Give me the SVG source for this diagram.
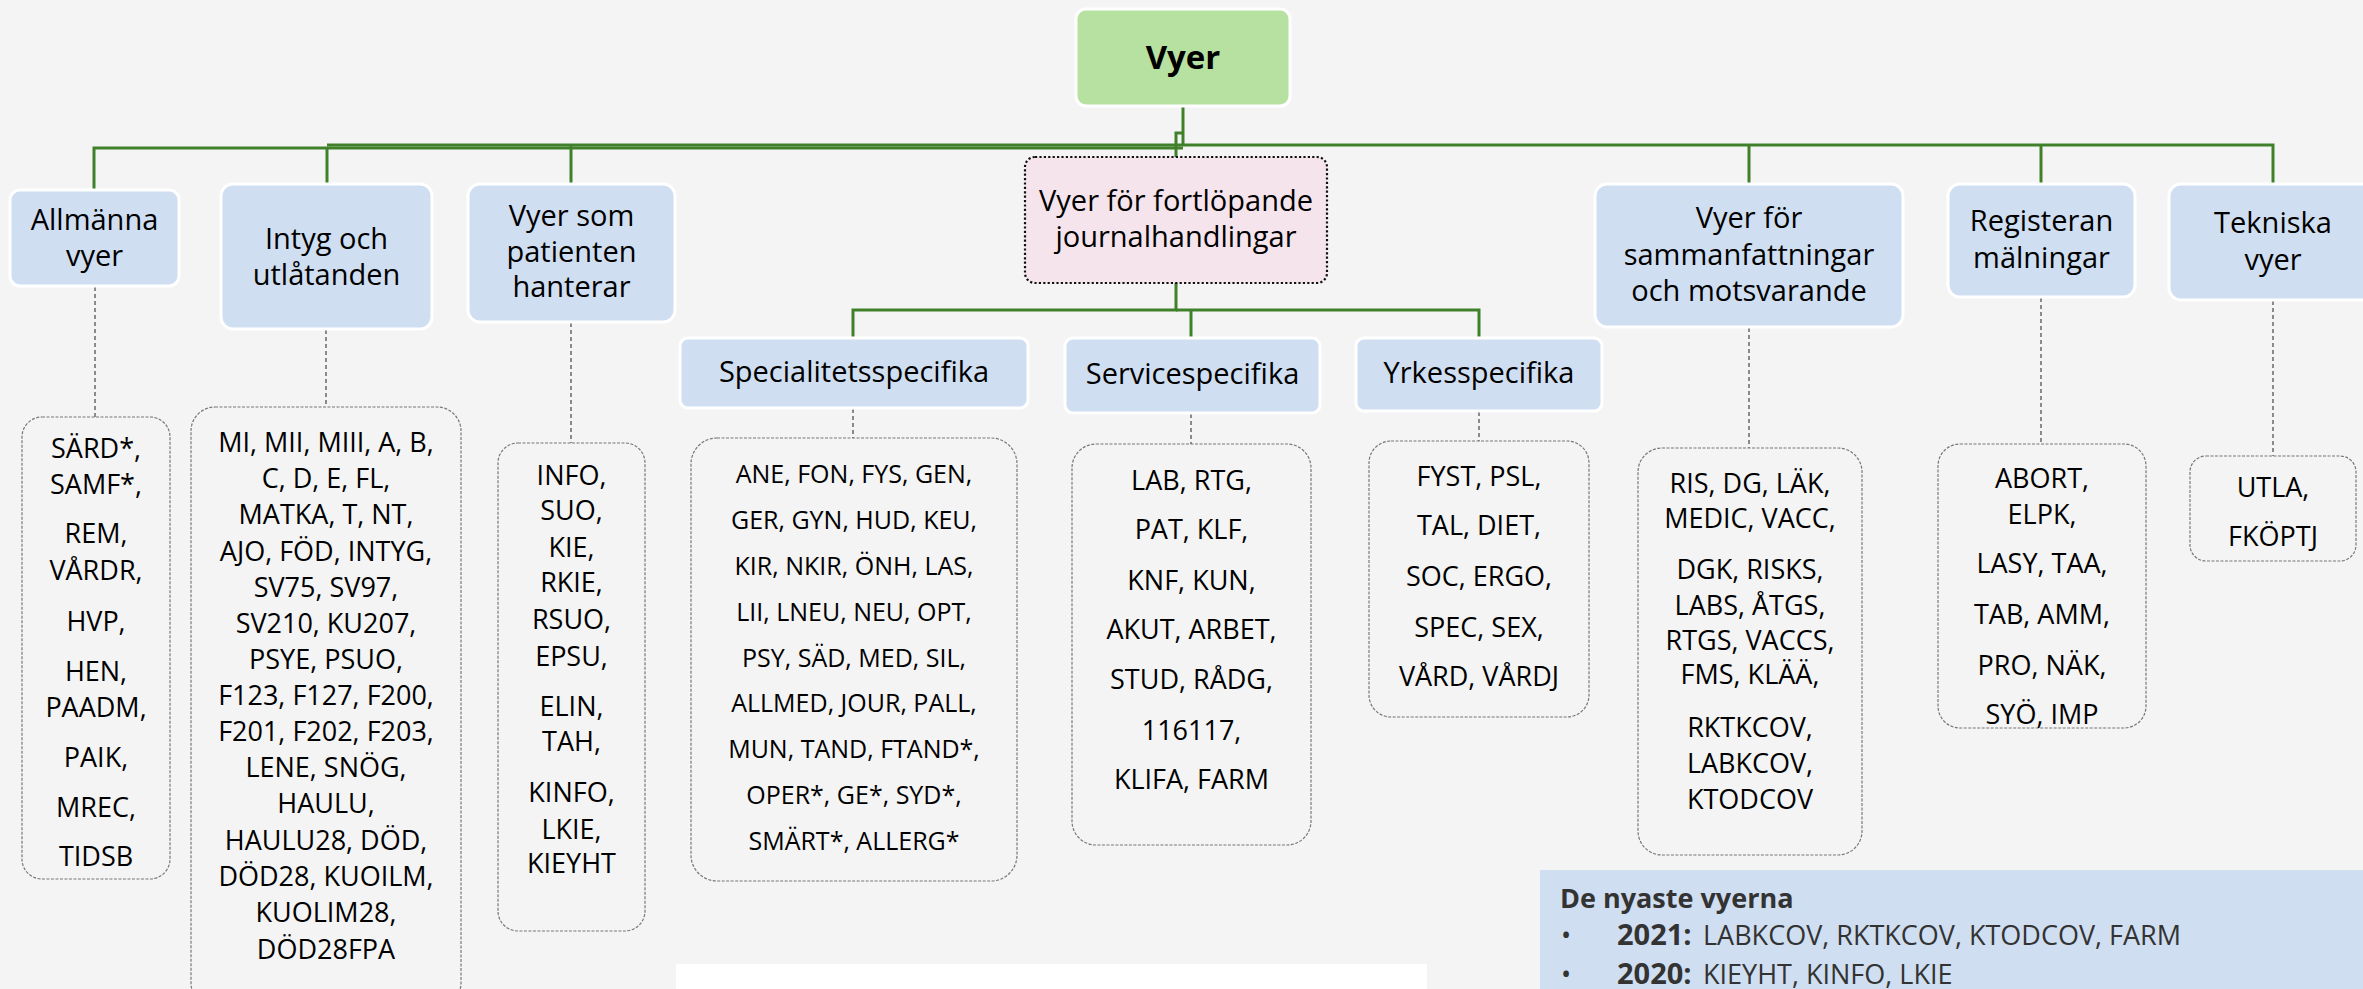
<svg xmlns="http://www.w3.org/2000/svg" width="2363" height="989" viewBox="0 0 2363 989">
<style>
text{font-family:"Open Sans","Noto Sans","Liberation Sans",sans-serif;fill:#000;text-anchor:middle}
.hdr{fill:#cfdef1;stroke:#fff;stroke-width:3}
.root{fill:#b7e1a1;stroke:#fff;stroke-width:3}
.pink{fill:#f5e4ec;stroke:#111;stroke-width:2.2;stroke-dasharray:2.2 2.2}
.leaf{fill:#f4f4f4;stroke:#777;stroke-width:1.2;stroke-dasharray:3 1.5}
.ht{font-size:29px}
.lt{font-size:27px}
.conn path{fill:none;stroke:#41802a;stroke-width:3}
.dash path{fill:none;stroke:#444;stroke-width:1.2;stroke-dasharray:4 3}
.lg{fill:#333;text-anchor:start;font-size:27px}
</style>
<rect x="0" y="0" width="2363" height="989" fill="#f4f4f4"/>

<g id="connectors">
  <g class="conn">
    <path d="M1183,106 V146"/>
    <path d="M1183,148 H94 V190"/>
    <path d="M327,148 V184"/>
    <path d="M327,145 H2273 V184"/>
    <path d="M571,145 V184"/>
    <path d="M1749,145 V184"/>
    <path d="M2041,145 V184"/>
    <path d="M1183,133 H1176 V157" stroke-width="2.5"/>
    <path d="M1176,283 V310 H853 V338" stroke-width="2.5"/>
    <path d="M1176,310 H1479 V338" stroke-width="2.5"/>
    <path d="M1191,310 V338" stroke-width="2.5"/>
  </g>
  <g class="dash">
    <path d="M95,287 V417"/>
    <path d="M326,330 V407"/>
    <path d="M571,323 V443"/>
    <path d="M853,409 V438"/>
    <path d="M1191,414 V444"/>
    <path d="M1479,412 V441"/>
    <path d="M1749,328 V448"/>
    <path d="M2041,298 V444"/>
    <path d="M2273,301 V456"/>
  </g>
</g>

<g id="root">
  <rect class="root" x="1076" y="9" width="214" height="97" rx="10"/>
  <text x="1183" y="69" font-size="33" font-weight="bold">Vyer</text>
</g>

<g id="allmanna">
  <rect class="hdr" x="10" y="190" width="169" height="96" rx="10"/>
  <text class="ht" x="94.5" y="230">Allmänna</text>
  <text class="ht" x="94.5" y="266">vyer</text>
</g>
<g id="intyg">
  <rect class="hdr" x="221" y="184" width="211" height="145" rx="12"/>
  <text class="ht" x="326.5" y="249">Intyg och</text>
  <text class="ht" x="326.5" y="285">utlåtanden</text>
</g>
<g id="patienten">
  <rect class="hdr" x="468" y="184" width="207" height="138" rx="12"/>
  <text class="ht" x="571.5" y="226">Vyer som</text>
  <text class="ht" x="571.5" y="262">patienten</text>
  <text class="ht" x="571.5" y="297">hanterar</text>
</g>
<g id="fortlopande">
  <rect class="pink" x="1025" y="157" width="302" height="126" rx="10"/>
  <text class="ht" x="1176" y="211">Vyer för fortlöpande</text>
  <text class="ht" x="1176" y="247">journalhandlingar</text>
</g>
<g id="specialitet">
  <rect class="hdr" x="680" y="338" width="348" height="70" rx="8"/>
  <text class="ht" x="854" y="382">Specialitetsspecifika</text>
</g>
<g id="service">
  <rect class="hdr" x="1065" y="338" width="255" height="75" rx="8"/>
  <text class="ht" x="1192.5" y="384">Servicespecifika</text>
</g>
<g id="yrkes">
  <rect class="hdr" x="1356" y="338" width="246" height="73" rx="8"/>
  <text class="ht" x="1479" y="383">Yrkesspecifika</text>
</g>
<g id="sammanfattningar">
  <rect class="hdr" x="1595" y="184" width="308" height="143" rx="12"/>
  <text class="ht" x="1749" y="228">Vyer för</text>
  <text class="ht" x="1749" y="265">sammanfattningar</text>
  <text class="ht" x="1749" y="301">och motsvarande</text>
</g>
<g id="registeran">
  <rect class="hdr" x="1948" y="184" width="187" height="113" rx="12"/>
  <text class="ht" x="2041.5" y="231">Registeran</text>
  <text class="ht" x="2041.5" y="268">mälningar</text>
</g>
<g id="tekniska">
  <rect class="hdr" x="2169" y="184" width="210" height="116" rx="12"/>
  <text class="ht" x="2273" y="233">Tekniska</text>
  <text class="ht" x="2273" y="270">vyer</text>
</g>

<g id="leaf-allmanna">
  <rect class="leaf" x="22" y="417" width="148" height="462" rx="20"/>
  <g class="lt">
    <text x="96" y="458">SÄRD*,</text>
    <text x="96" y="494">SAMF*,</text>
    <text x="96" y="543">REM,</text>
    <text x="96" y="580">VÅRDR,</text>
    <text x="96" y="631">HVP,</text>
    <text x="96" y="681">HEN,</text>
    <text x="96" y="717">PAADM,</text>
    <text x="96" y="767">PAIK,</text>
    <text x="96" y="817">MREC,</text>
    <text x="96" y="866">TIDSB</text>
  </g>
</g>
<g id="leaf-intyg">
  <rect class="leaf" x="191" y="407" width="270" height="600" rx="24"/>
  <g class="lt">
    <text x="326" y="452">MI, MII, MIII, A, B,</text>
    <text x="326" y="488">C, D, E, FL,</text>
    <text x="326" y="524">MATKA, T, NT,</text>
    <text x="326" y="561">AJO, FÖD, INTYG,</text>
    <text x="326" y="597">SV75, SV97,</text>
    <text x="326" y="633">SV210, KU207,</text>
    <text x="326" y="669">PSYE, PSUO,</text>
    <text x="326" y="705">F123, F127, F200,</text>
    <text x="326" y="741">F201, F202, F203,</text>
    <text x="326" y="777">LENE, SNÖG,</text>
    <text x="326" y="813">HAULU,</text>
    <text x="326" y="850">HAULU28, DÖD,</text>
    <text x="326" y="886">DÖD28, KUOILM,</text>
    <text x="326" y="922">KUOLIM28,</text>
    <text x="326" y="959">DÖD28FPA</text>
  </g>
</g>
<g id="leaf-patienten">
  <rect class="leaf" x="498" y="443" width="147" height="488" rx="20"/>
  <g class="lt">
    <text x="571.5" y="485">INFO,</text>
    <text x="571.5" y="520">SUO,</text>
    <text x="571.5" y="557">KIE,</text>
    <text x="571.5" y="592">RKIE,</text>
    <text x="571.5" y="629">RSUO,</text>
    <text x="571.5" y="666">EPSU,</text>
    <text x="571.5" y="716">ELIN,</text>
    <text x="571.5" y="751">TAH,</text>
    <text x="571.5" y="802">KINFO,</text>
    <text x="571.5" y="839">LKIE,</text>
    <text x="571.5" y="873">KIEYHT</text>
  </g>
</g>
<g id="leaf-specialitet">
  <rect class="leaf" x="691" y="438" width="326" height="443" rx="26"/>
  <g font-size="25">
    <text x="854" y="483">ANE, FON, FYS, GEN,</text>
    <text x="854" y="529">GER, GYN, HUD, KEU,</text>
    <text x="854" y="575">KIR, NKIR, ÖNH, LAS,</text>
    <text x="854" y="621">LII, LNEU, NEU, OPT,</text>
    <text x="854" y="667">PSY, SÄD, MED, SIL,</text>
    <text x="854" y="712">ALLMED, JOUR, PALL,</text>
    <text x="854" y="758">MUN, TAND, FTAND*,</text>
    <text x="854" y="804">OPER*, GE*, SYD*,</text>
    <text x="854" y="850">SMÄRT*, ALLERG*</text>
  </g>
</g>
<g id="leaf-service">
  <rect class="leaf" x="1072" y="444" width="239" height="401" rx="24"/>
  <g class="lt">
    <text x="1191.5" y="490">LAB, RTG,</text>
    <text x="1191.5" y="539">PAT, KLF,</text>
    <text x="1191.5" y="590">KNF, KUN,</text>
    <text x="1191.5" y="639">AKUT, ARBET,</text>
    <text x="1191.5" y="689">STUD, RÅDG,</text>
    <text x="1191.5" y="740">116117,</text>
    <text x="1191.5" y="789">KLIFA, FARM</text>
  </g>
</g>
<g id="leaf-yrkes">
  <rect class="leaf" x="1369" y="441" width="220" height="276" rx="22"/>
  <g class="lt">
    <text x="1479" y="486">FYST, PSL,</text>
    <text x="1479" y="535">TAL, DIET,</text>
    <text x="1479" y="586">SOC, ERGO,</text>
    <text x="1479" y="637">SPEC, SEX,</text>
    <text x="1479" y="686">VÅRD, VÅRDJ</text>
  </g>
</g>
<g id="leaf-sammanfattningar">
  <rect class="leaf" x="1638" y="448" width="224" height="407" rx="24"/>
  <g class="lt">
    <text x="1750" y="493">RIS, DG, LÄK,</text>
    <text x="1750" y="528">MEDIC, VACC,</text>
    <text x="1750" y="579">DGK, RISKS,</text>
    <text x="1750" y="615">LABS, ÅTGS,</text>
    <text x="1750" y="650">RTGS, VACCS,</text>
    <text x="1750" y="684">FMS, KLÄÄ,</text>
    <text x="1750" y="737">RKTKCOV,</text>
    <text x="1750" y="773">LABKCOV,</text>
    <text x="1750" y="809">KTODCOV</text>
  </g>
</g>
<g id="leaf-registeran">
  <rect class="leaf" x="1938" y="444" width="208" height="284" rx="22"/>
  <g class="lt">
    <text x="2042" y="488">ABORT,</text>
    <text x="2042" y="524">ELPK,</text>
    <text x="2042" y="573">LASY, TAA,</text>
    <text x="2042" y="624">TAB, AMM,</text>
    <text x="2042" y="675">PRO, NÄK,</text>
    <text x="2042" y="724">SYÖ, IMP</text>
  </g>
</g>
<g id="leaf-tekniska">
  <rect class="leaf" x="2190" y="456" width="166" height="105" rx="16"/>
  <g class="lt">
    <text x="2273" y="497">UTLA,</text>
    <text x="2273" y="546">FKÖPTJ</text>
  </g>
</g>

<rect x="676" y="964" width="751" height="30" fill="#ffffff"/>

<g id="legend">
  <rect x="1540" y="870" width="830" height="125" fill="#cfdef1"/>
  <text class="lg" x="1560" y="908" font-size="29" font-weight="bold">De nyaste vyerna</text>
  <text class="lg" x="1561" y="945">•</text>
  <text class="lg" x="1617" y="945"><tspan font-weight="bold" font-size="29">2021:</tspan><tspan x="1703">LABKCOV, RKTKCOV, KTODCOV, FARM</tspan></text>
  <text class="lg" x="1561" y="984">•</text>
  <text class="lg" x="1617" y="984"><tspan font-weight="bold" font-size="29">2020:</tspan><tspan x="1703">KIEYHT, KINFO, LKIE</tspan></text>
</g>
</svg>
